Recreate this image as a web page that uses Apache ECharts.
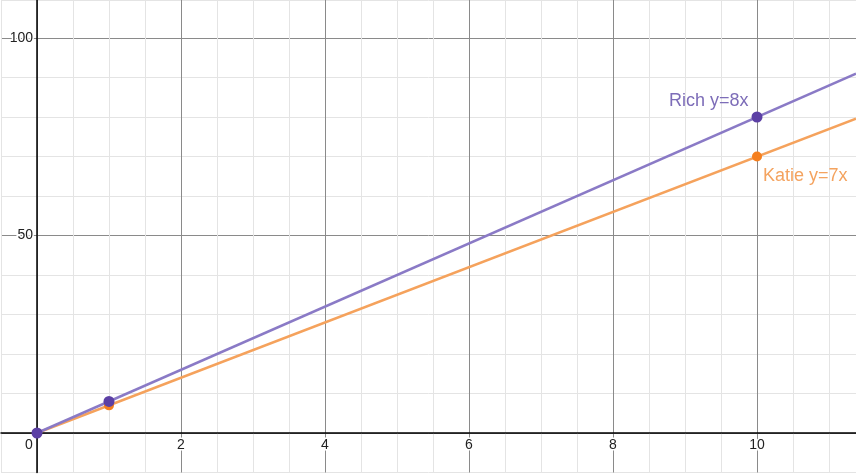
<!DOCTYPE html>
<html><head><meta charset="utf-8">
<script src="https://cdn.jsdelivr.net/npm/echarts@6/dist/echarts.min.js"></script>
<style>html,body{margin:0;padding:0;background:#fff}#c{width:856px;height:474px}</style>
</head><body><div id="c"></div>
<script>
// Data
const richPoints = [[0, 0], [1, 8], [10, 80]];
const katiePoints = [[0, 0], [1, 7], [10, 70]];
const richLine = [[0, 0], [11.375, 91]];
const katieLine = [[0, 0], [11.375, 79.6]];
const richLabel = 'Rich y=8x';
const katieLabel = 'Katie y=7x';
const xTickLabels = [0, 2, 4, 6, 8, 10];
const yTickLabels = [50, 100];

const X_MIN = -0.5, X_MAX = 11.375, Y_MIN = -10, Y_MAX = 109.62;
const W = 856, H = 474, GL = 1, GB = 1.5;
const gw = W - GL, gh = H - GB;
// shift the axes so they sit on the zero lines (labels follow)
const xOff = -((0 - Y_MIN) / (Y_MAX - Y_MIN)) * gh;
const yOff = -((0 - X_MIN) / (X_MAX - X_MIN)) * gw;

const minor = '#e4e4e4', major = '#8a8a8a';
const chart = echarts.init(document.getElementById('c'), null, {renderer: 'canvas'});
const font = 'Liberation Sans, Arial, sans-serif';
chart.setOption({
  animation: false,
  backgroundColor: '#fff',
  grid: {left: GL, right: 0, top: 0, bottom: GB, containLabel: false, outerBoundsMode: 'none'},
  xAxis: {
    type: 'value', min: X_MIN, max: X_MAX, interval: 0.5, position: 'bottom', offset: xOff,
    axisLine: {onZero: false, lineStyle: {color: '#000', width: 1.5}},
    axisTick: {show: false},
    splitLine: {show: true, lineStyle: {color: [minor, major, minor, minor], width: 1}},
    axisLabel: {
      margin: 5, color: '#222', fontSize: 14, fontFamily: font,
      textBorderColor: '#fff', textBorderWidth: 3,
      showMinLabel: true, showMaxLabel: true,
      formatter: v => {
        if (Math.abs(v) < 1e-9 && xTickLabels.includes(0)) return '{z|0}';
        return xTickLabels.includes(v) ? String(v) : '';
      },
      rich: {z: {padding: [0, 16, 0, 0], fontSize: 14, color: '#222', fontFamily: font, textBorderColor: '#fff', textBorderWidth: 3}}
    }
  },
  yAxis: {
    type: 'value', min: Y_MIN, max: Y_MAX, interval: 10, position: 'left', offset: yOff,
    axisLine: {onZero: false, lineStyle: {color: '#000', width: 1.5}},
    axisTick: {show: false},
    splitLine: {show: true, lineStyle: {color: [minor, major, minor, minor, minor], width: 1}},
    axisLabel: {
      margin: 4, color: '#222', fontSize: 14, fontFamily: font,
      textBorderColor: '#fff', textBorderWidth: 3,
      formatter: v => yTickLabels.includes(v) ? String(v) : ''
    }
  },
  series: [
    {type: 'line', data: katieLine, showSymbol: false, lineStyle: {color: '#f5a25c', width: 2.5}, z: 2},
    {type: 'line', data: richLine, showSymbol: false, lineStyle: {color: '#8a7ac6', width: 2.5}, z: 3},
    {type: 'scatter', data: katiePoints, symbolSize: 10, itemStyle: {color: '#f57f1e', opacity: 1}, z: 4,
      label: {show: true, position: 'right', distance: 1, offset: [0, 20], fontSize: 18, fontFamily: font, color: '#f4a35f',
        formatter: p => p.dataIndex === katiePoints.length - 1 ? katieLabel : ''}},
    {type: 'scatter', data: richPoints, symbolSize: 11, itemStyle: {color: '#5c40a5', opacity: 1}, z: 5,
      label: {show: true, position: 'left', distance: 3, offset: [0, -16], fontSize: 18, fontFamily: font, color: '#7d6db8',
        formatter: p => p.dataIndex === richPoints.length - 1 ? richLabel : ''}}
  ]
});
</script></body></html>
